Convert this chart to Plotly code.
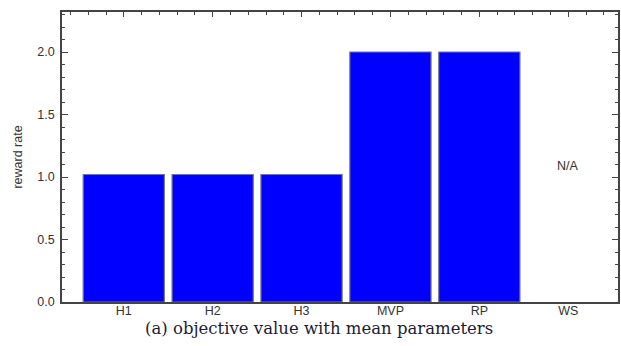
import plotly.graph_objects as go

# Reward rate of each policy under mean parameters
categories = ["H1", "H2", "H3", "MVP", "RP", "WS"]
reward_rate = [1.02, 1.02, 1.02, 2.0, 2.0, None]
na_label = "N/A"
na_label_y = 1.09
caption = "(a) objective value with mean parameters"

W, H = 621, 346
L, R, T, B = 62, 1, 12, 44
x_range = [-0.695, 5.56]
y_range = [0, 2.32]

axis_color = "#444444"
text_color = "#333333"
tick_font = dict(family="Liberation Sans, Arial, sans-serif", size=12.5, color=text_color)

fig = go.Figure()
fig.add_trace(go.Bar(
    x=categories,
    y=reward_rate,
    marker=dict(color="#0000ff", line=dict(color="#7a7a7a", width=1.2)),
    showlegend=False,
    hoverinfo="x+y",
))
# invisible trace so the top tick axis is drawn
fig.add_trace(go.Scatter(
    x=[0], y=[0], xaxis="x2", mode="markers",
    marker=dict(opacity=0), showlegend=False, hoverinfo="skip",
))

fig.add_annotation(
    x="WS", y=na_label_y, xref="x", yref="y", text=na_label,
    showarrow=False, font=tick_font,
)

plot_w = W - L - R
plot_h = H - T - B
fig.add_annotation(
    x=(320 - L) / plot_w, y=-(328 - (H - B)) / plot_h,
    xref="paper", yref="paper", text=caption, showarrow=False,
    xanchor="center", yanchor="middle", borderpad=0,
    font=dict(family="DejaVu Serif, serif", size=16.5, color="#1c1c33"),
)

fig.update_layout(
    width=W, height=H,
    margin=dict(l=L, r=R, t=T, b=B, pad=0),
    paper_bgcolor="white", plot_bgcolor="white",
    bargap=0.086,
    xaxis=dict(
        type="category", range=x_range, showgrid=False, zeroline=False,
        showline=True, linecolor=axis_color, linewidth=1.5,
        ticks="", tickfont=tick_font, ticklabelstandoff=-4,
    ),
    xaxis2=dict(
        overlaying="x", side="top", type="linear", range=x_range,
        showgrid=False, zeroline=False, showline=True,
        linecolor=axis_color, linewidth=1.5,
        ticks="inside", tick0=0, dtick=1, ticklen=5, tickwidth=1.2,
        tickcolor=axis_color, showticklabels=False,
        minor=dict(ticks="inside", dtick=0.2, ticklen=3, tickwidth=1,
                   tickcolor=axis_color, showgrid=False),
    ),
    yaxis=dict(
        range=y_range, showgrid=False, zeroline=False,
        showline=True, linecolor=axis_color, linewidth=1.5, mirror="ticks",
        ticks="inside", tick0=0, dtick=0.5, ticklen=6, tickwidth=1.2,
        tickcolor=axis_color, tickformat=".1f", tickfont=tick_font,
        ticklabelstandoff=3,
        minor=dict(ticks="inside", dtick=0.1, ticklen=3.5, tickwidth=1,
                   tickcolor=axis_color, showgrid=False),
        title=dict(text="reward rate", font=tick_font, standoff=12),
    ),
)

fig.write_html("out.html")
